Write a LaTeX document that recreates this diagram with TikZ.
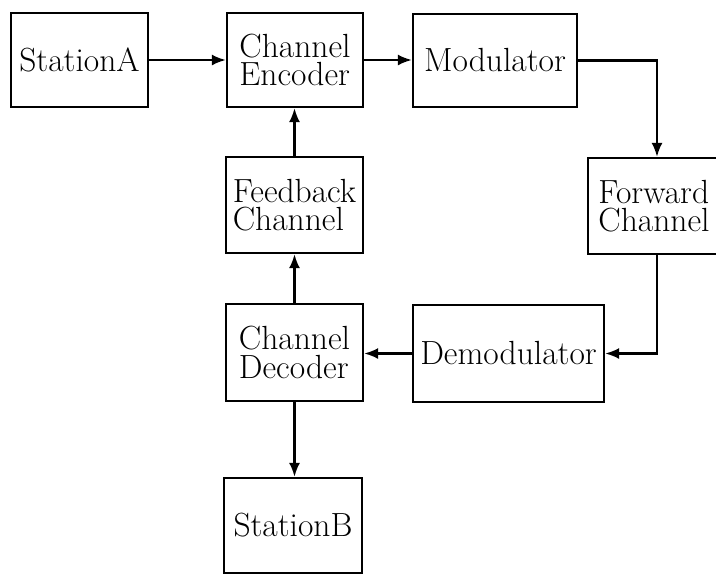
\documentclass[tikz,border=0pt]{standalone}
\usetikzlibrary{arrows.meta}
\begin{document}
\begin{tikzpicture}[x=1pt,y=-1pt,
  blk/.style={draw, line width=2.3pt, inner sep=0pt, align=left,
    font=\fontsize{33.5}{28.5}\selectfont},
  conn/.style={line width=2.1pt, -{Latex[length=14pt,width=11pt]}}]
\useasboundingbox (0,0) rectangle (716,574);
\node[blk, minimum width=137pt, minimum height=94pt] (sa) at (79.5,60) {StationA};
\node[blk, minimum width=136pt, minimum height=94pt] (enc) at (295,60) {Channel\\Encoder};
\node[blk, minimum width=164pt, minimum height=93pt] (mod) at (495,60.5) {Modulator};
\node[blk, minimum width=132pt, minimum height=96pt] (fwd) at (654,206) {Forward\\Channel};
\node[blk, minimum width=137pt, minimum height=96pt] (fb) at (294.5,205) {Feedback\\Channel};
\node[blk, minimum width=137pt, minimum height=97pt] (dec) at (294.5,352.5) {Channel\\Decoder};
\node[blk, minimum width=191pt, minimum height=97pt] (dem) at (508.5,353.5) {Demodulator};
\node[blk, minimum width=138pt, minimum height=95pt] (sb) at (293,525.5) {StationB};
\coordinate (tap) at (657,60.5);
\draw[conn] (sa.east) -- (sa.east -| enc.west);
\draw[conn] (enc.east) -- (enc.east -| mod.west);
\draw[conn] (mod.east) -- (tap) -- (tap |- fwd.north);
\draw[conn] (tap |- fwd.south) |- (dem.east);
\draw[conn] (dem.west) -- (dem.west -| dec.east);
\draw[conn] (dec.north) -- (dec.north |- fb.south);
\draw[conn] (fb.north) -- (fb.north |- enc.south);
\draw[conn] (dec.south) -- (dec.south |- sb.north);
\end{tikzpicture}
\end{document}
